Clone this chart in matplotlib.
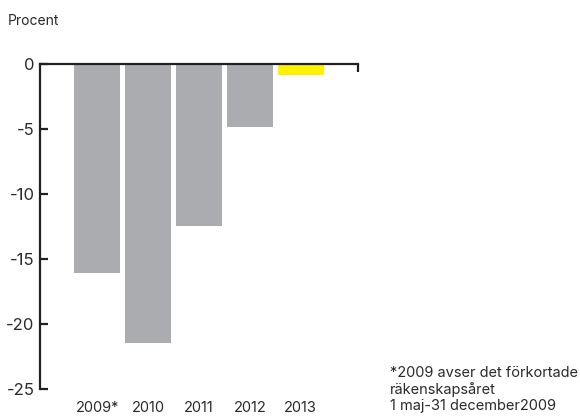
import matplotlib
matplotlib.use("Agg")
import matplotlib.pyplot as plt
import matplotlib.transforms as mtransforms

categories = ["2009*", "2010", "2011", "2012", "2013"]
values = [-16.1, -21.5, -12.5, -4.85, -0.9]
colors = ["#ABACAF", "#ABACAF", "#ABACAF", "#ABACAF", "#FFF200"]
yticks = [0, -5, -10, -15, -20, -25]

plt.rcParams['font.family'] = ['Inter', 'DejaVu Sans']
dark = "#231F20"
textc = "#2a2a2a"

fig = plt.figure(figsize=(5.8, 4.16), dpi=100)
ax = fig.add_axes([0.069, 0.066, 0.548, 0.781])

x = list(range(len(categories)))
ax.bar(x, values, width=0.9, color=colors, zorder=1)

ax.set_xlim(-1.12, 5.12)
ax.set_ylim(-25, 0)

for s in ["right", "bottom"]:
    ax.spines[s].set_visible(False)
for s in ["left", "top"]:
    ax.spines[s].set_color(dark)
    ax.spines[s].set_linewidth(1.6)
    ax.spines[s].set_zorder(3)

ax.set_yticks(yticks)
ax.set_yticklabels([str(v) for v in yticks])
ax.tick_params(axis="y", direction="in", length=6, width=1.6, color=dark,
               labelsize=12, pad=4, labelcolor=textc)
ax.set_xticks(x)
ax.set_xticklabels(categories)
ax.tick_params(axis="x", length=0, pad=9, labelsize=10.5, labelcolor=textc)

# small downward hook at right end of zero line
trans = mtransforms.blended_transform_factory(ax.transAxes, ax.transData)
ax.plot([1, 1], [0, -0.62], transform=trans, color=dark, lw=1.6,
        clip_on=False, solid_capstyle="butt", zorder=3)

fig.text(8 / 580, 1 - 21 / 416, "Procent", fontsize=10, color=textc,
         va="center", ha="left")
fig.text(390 / 580, 1 - 389.5 / 416,
         "*2009 avser det förkortade\nräkenskapsåret\n1 maj-31 december2009",
         fontsize=10.5, color=textc, va="center", ha="left", linespacing=1.15)

fig.savefig("out.png", dpi=100)
